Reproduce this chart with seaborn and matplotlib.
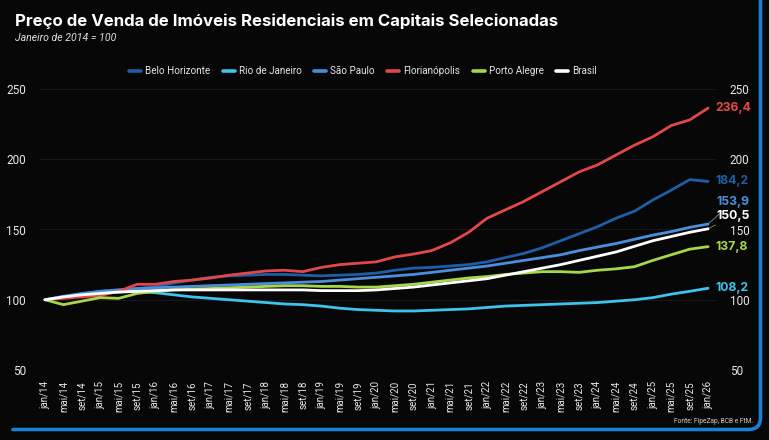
import matplotlib
matplotlib.use("Agg")
import matplotlib.pyplot as plt
from matplotlib.path import Path
from matplotlib.patches import PathPatch
from matplotlib.lines import Line2D
import seaborn as sns
import pandas as pd

# ---------------- data ----------------
dates = ["jan/14", "mai/14", "set/14", "jan/15", "mai/15", "set/15", "jan/16", "mai/16", "set/16",
         "jan/17", "mai/17", "set/17", "jan/18", "mai/18", "set/18", "jan/19", "mai/19", "set/19",
         "jan/20", "mai/20", "set/20", "jan/21", "mai/21", "set/21", "jan/22", "mai/22", "set/22",
         "jan/23", "mai/23", "set/23", "jan/24", "mai/24", "set/24", "jan/25", "mai/25", "set/25",
         "jan/26"]

belo_horizonte = [100, 102, 104, 106, 107, 108, 109, 112, 114, 116, 117, 117.5, 118, 118, 117.5,
                  117, 117.5, 118, 119, 121, 122.5, 123, 124, 125, 127, 130, 133, 137, 142, 147,
                  152, 158, 163, 171, 178, 185.5, 184.2]
rio_de_janeiro = [100, 102, 103.5, 104.5, 105.5, 106, 105, 103.5, 102, 101, 100, 99, 98, 97, 96.5,
                  95.5, 94, 93, 92.5, 92, 92, 92.5, 93, 93.5, 94.5, 95.5, 96, 96.5, 97, 97.5,
                  98, 99, 100, 101.5, 104, 106, 108.2]
sao_paulo = [100, 102.5, 104.5, 106, 107, 108, 108.5, 109, 109.5, 110, 110.5, 111, 111.5, 112, 112.5,
             113, 114, 115, 116, 117, 118, 119.5, 121, 122.5, 124, 126, 128, 130, 132, 135,
             137.5, 140, 143, 146, 148.5, 151.5, 153.9]
florianopolis = [100, 101, 102, 103, 106, 111, 111, 113, 114, 115.5, 117.5, 119, 120.5, 121, 120,
                 123, 125, 126, 127, 130.5, 132.5, 135, 140.5, 148, 158, 164, 170, 177, 184, 191,
                 196, 203, 210, 216, 224, 228, 236.4]
porto_alegre = [100, 96.5, 99, 101.5, 101, 104.5, 106, 107, 107.5, 108, 108.5, 109, 109.5, 110, 110,
                109.5, 109.5, 109, 109, 110, 111, 112.5, 114, 115.5, 116.5, 118, 119, 120, 120, 119.5,
                121, 122, 123.5, 128, 132, 136, 137.8]
brasil = [100, 102, 103.5, 104.5, 105.5, 106, 106.5, 107, 107, 107, 107, 107, 107, 107, 107,
          106.5, 106.5, 106.5, 107, 108, 109, 110.5, 112, 113.5, 115, 117.5, 120, 122.5, 125, 128,
          131, 134, 138, 142, 145, 148, 150.5]

series_names = ["Belo Horizonte", "Rio de Janeiro", "São Paulo", "Florianópolis", "Porto Alegre", "Brasil"]
series_values = [belo_horizonte, rio_de_janeiro, sao_paulo, florianopolis, porto_alegre, brasil]
series_colors = ["#1f5ea6", "#3ec3ea", "#4a8fde", "#e4474a", "#a6d64a", "#ffffff"]
end_labels = ["184,2", "108,2", "153,9", "236,4", "137,8", "150,5"]
y_ticks = [50, 100, 150, 200, 250]

rows = []
for name, vals in zip(series_names, series_values):
    for d, v in zip(dates, vals):
        rows.append({"data": d, "indice": v, "cidade": name})
df = pd.DataFrame(rows)

# ---------------- style ----------------
sns.set_theme(style="dark")
plt.rcParams["font.family"] = ["Inter", "DejaVu Sans"]
BG = "#070707"

fig = plt.figure(figsize=(7.69, 4.40), dpi=100, facecolor=BG)
ax = fig.add_axes([40 / 769, 1 - 370 / 440, (716 - 40) / 769, (370 - 89) / 440])
ax.set_facecolor(BG)

sns.lineplot(data=df, x="data", y="indice", hue="cidade", hue_order=series_names,
             palette=series_colors, linewidth=2.0, sort=False, ax=ax, legend=False)

ax.set_ylim(50, 250)
ax.set_xlim(-0.27, 36.43)
ax.set_yticks(y_ticks)
ax.set_xticks(range(len(dates)))
ax.set_xticklabels(dates, rotation=90, fontsize=7.0, color="#e8e8e8", family="Roboto")
ax.tick_params(axis="y", labelleft=True, labelright=True, left=False, right=False,
               labelsize=8.5, colors="#e8e8e8", pad=4)
ax.tick_params(axis="x", bottom=False, pad=2)
for lab in ax.get_yticklabels():
    lab.set_family("Roboto")
ax.grid(axis="y", color="#1c1c1c", linewidth=0.6)
ax.grid(axis="x", visible=False)
ax.set_xlabel("")
ax.set_ylabel("")
for s in ax.spines.values():
    s.set_visible(False)

# legend
handles = [Line2D([0], [0], color=c, lw=2.6) for c in series_colors]
fig.legend(handles, series_names, loc="center", bbox_to_anchor=(363 / 769, 1 - 71 / 440),
           ncol=6, frameon=False, handlelength=1.2, handletextpad=0.4,
           columnspacing=1.3, labelcolor="#e6e6e6", prop={"family": "Roboto", "size": 7.1})

# end labels
offsets = {"184,2": 0, "108,2": 0, "153,9": 16, "236,4": 0, "137,8": 0, "150,5": 9.5}
last = len(dates) - 1
for name, vals, col, lab in zip(series_names, series_values, series_colors, end_labels):
    dy = offsets[lab]
    if dy:
        ax.annotate(lab, xy=(last, vals[-1]), xytext=(6, dy), textcoords="offset points",
                    ha="left", va="center", color=col, fontsize=8.8, fontweight="bold",
                    annotation_clip=False,
                    arrowprops=dict(arrowstyle="-", color="#8a8a8a", lw=0.6, shrinkA=0, shrinkB=1))
    else:
        ax.annotate(lab, xy=(last, vals[-1]), xytext=(5, 0), textcoords="offset points",
                    ha="left", va="center", color=col, fontsize=8.8, fontweight="bold",
                    annotation_clip=False)

# titles
fig.text(15 / 769, 1 - 21 / 440, "Preço de Venda de Imóveis Residenciais em Capitais Selecionadas",
         fontsize=12.1, fontweight="bold", color="white", ha="left", va="center")
fig.text(15 / 769, 1 - 38 / 440, "Janeiro de 2014 = 100", fontsize=7.6, style="italic",
         color="#e0e0e0", ha="left", va="center", family="Roboto")
fig.text(753 / 769, 1 - 421 / 440, "Fonte: FipeZap, BCB e FtM.", fontsize=4.8,
         color="#d0d0d0", ha="right", va="center", family="Roboto")

# blue frame (bottom and right edge with rounded corner)
r = 0.12
xr, yb = 7.605, 0.105
verts = [(0.13, yb), (xr - r, yb), (xr, yb), (xr, yb + r), (xr, 4.6)]
codes = [Path.MOVETO, Path.LINETO, Path.CURVE3, Path.CURVE3, Path.LINETO]
frame = PathPatch(Path(verts, codes), facecolor="none", edgecolor="#1b7fd8", lw=2.6,
                  transform=fig.dpi_scale_trans, capstyle="round")
fig.patches.append(frame)

fig.savefig("out.png", dpi=100, facecolor=BG)
